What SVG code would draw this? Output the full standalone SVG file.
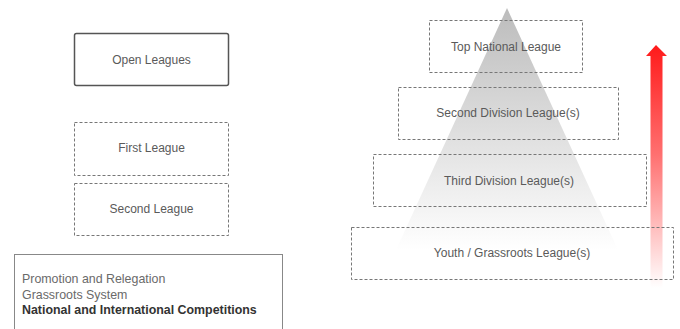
<svg xmlns="http://www.w3.org/2000/svg" width="680" height="329" viewBox="0 0 680 329">
<style>
.lbl{font-family:"Liberation Sans",Arial,sans-serif;font-size:12px;fill:#5a5a5a;text-anchor:middle;dominant-baseline:central}
.dash{fill:none;stroke:#777;stroke-width:1;stroke-dasharray:3 2}
.note{font-family:"Liberation Sans",Arial,sans-serif;font-size:12.4px;fill:#6a6a6a}
</style>
<defs>
<linearGradient id="pyr" x1="0" y1="0" x2="0" y2="1">
<stop offset="0" stop-color="#bcbcbc"/>
<stop offset="1" stop-color="#ffffff"/>
</linearGradient>
<linearGradient id="red" x1="0" y1="0" x2="0" y2="1">
<stop offset="0" stop-color="#ff1a1a"/>
<stop offset="0.45" stop-color="#ff7070"/>
<stop offset="1" stop-color="#ffffff"/>
</linearGradient>
</defs>
<rect width="680" height="329" fill="#fff"/>
<polygon id="pyramid" points="507,8 618,250 396,250" fill="url(#pyr)"/>
<path id="rise-arrow" d="M656,45 L667,56 L662.5,56 L662.5,288 L650.5,288 L650.5,56 L646,56 Z" fill="url(#red)"/>
<g id="open-leagues">
<rect x="74.5" y="33.5" width="154" height="52" rx="2" fill="none" stroke="#555" stroke-width="1.5"/>
<text class="lbl" x="151.5" y="60">Open Leagues</text>
</g>
<g id="first-league">
<rect class="dash" x="74.5" y="122.5" width="154" height="53"/>
<text class="lbl" x="151.5" y="148">First League</text>
</g>
<g id="second-league">
<rect class="dash" x="74.5" y="183.5" width="154" height="52"/>
<text class="lbl" x="151.5" y="209">Second League</text>
</g>
<g id="legend">
<rect x="14.5" y="254.5" width="268" height="90" fill="none" stroke="#888" stroke-width="1"/>
<text class="note" x="22" y="283">Promotion and Relegation</text>
<text class="note" x="22" y="299">Grassroots System</text>
<text class="note" x="22" y="314" style="font-weight:bold;fill:#333">National and International Competitions</text>
</g>
<g id="top-national">
<rect class="dash" x="429.5" y="20.5" width="153" height="52"/>
<text class="lbl" x="506" y="47">Top National League</text>
</g>
<g id="second-division">
<rect class="dash" x="398.5" y="87.5" width="220" height="52"/>
<text class="lbl" x="508" y="113">Second Division League(s)</text>
</g>
<g id="third-division">
<rect class="dash" x="373.5" y="154.5" width="273" height="52"/>
<text class="lbl" x="509" y="181">Third Division League(s)</text>
</g>
<g id="youth">
<rect class="dash" x="351.5" y="227.5" width="322" height="52"/>
<text class="lbl" x="512" y="253">Youth / Grassroots League(s)</text>
</g>
<g id="connectors"></g>
</svg>
